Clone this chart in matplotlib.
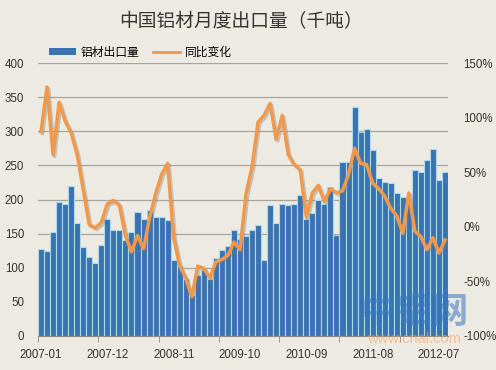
import matplotlib

matplotlib.use("Agg")

import matplotlib.pyplot as plt  # noqa: E402
import matplotlib.patheffects as pe  # noqa: E402
from matplotlib.lines import Line2D  # noqa: E402
from matplotlib.patches import Patch  # noqa: E402
from matplotlib.ticker import FixedLocator, FuncFormatter  # noqa: E402

plt.rcParams["font.family"] = ["Liberation Sans", "Noto Sans CJK SC", "DejaVu Sans"]

# 铝材月度出口量（千吨），2007-01 .. 2012-08
exports = [128, 125, 152, 196, 194, 220, 165, 131, 116, 107,
           133, 172, 155, 155, 140, 152, 182, 172, 184, 175,
           175, 170, 112, 103, 84, 60, 90, 97, 84, 115,
           126, 132, 155, 142, 147, 155, 163, 112, 192, 166,
           193, 192, 194, 206, 171, 180, 199, 194, 219, 148,
           255, 255, 335, 299, 303, 272, 231, 225, 224, 210,
           203, 196, 243, 240, 258, 274, 229, 240]

# 同比变化（%）
yoy = [87, 128, 66, 114, 97, 86, 66, 34, 2, -1,
       4, 21, 24, 20, -8, -23, -8, -20, 8, 30,
       48, 58, -10, -36, -47, -64, -36, -38, -47, -32,
       -30, -26, -14, -21, 30, 55, 96, 102, 113, 80,
       102, 66, 57, 52, 9, 31, 38, 23, 35, 31,
       33, 48, 72, 58, 57, 40, 35, 28, 17, 10,
       -6, 31, -4, -9, -21, -10, -24, -12]

tick_labels = ["2007-01", "2007-12", "2008-11", "2009-10", "2010-09", "2011-08", "2012-07"]
left_ticks = [0, 50, 100, 150, 200, 250, 300, 350, 400]
right_ticks = [-100, -50, 0, 50, 100, 150]

BG = "#edeae2"
BAR = "#3a72b2"
BAR_EDGE = "#a9dbe8"
LINE = "#f0994c"
GRID = "#a8a39a"
TEXT = "#333333"

fig = plt.figure(figsize=(4.96, 3.70), dpi=100, facecolor=BG)
ax = fig.add_axes([38 / 496, 1 - 336 / 370, 410 / 496, 273 / 370])
ax.set_facecolor(BG)

x = list(range(len(exports)))
ax.bar(x, exports, width=1.0, color=BAR, edgecolor=BAR_EDGE, linewidth=0.8, zorder=2)
ax.set_xlim(-0.5, len(exports) - 0.5)
ax.set_ylim(0, 400)
ax.set_yticks(left_ticks)
ax.yaxis.grid(True, color=GRID, linewidth=0.9)
ax.set_axisbelow(True)
for side in ["left", "right", "top"]:
    ax.spines[side].set_visible(False)
ax.spines["bottom"].set_color("#8f8b84")
ax.spines["bottom"].set_zorder(3)

ax.set_xticks([i * 11 for i in range(len(tick_labels))])
ax.set_xticklabels(tick_labels)
ax.xaxis.set_minor_locator(FixedLocator([i * 10 - 0.5 for i in range(7)]))
ax.tick_params(axis="x", which="major", length=0, pad=9, labelsize=8.3, labelcolor=TEXT)
ax.tick_params(axis="x", which="minor", length=4, color="#8f8b84")
ax.tick_params(axis="y", length=0, pad=10, labelsize=8.3, labelcolor=TEXT)

ax2 = ax.twinx()
ax2.set_ylim(-100, 150)
ax2.set_yticks(right_ticks)
ax2.yaxis.set_major_formatter(FuncFormatter(lambda v, _: f"{v:.0f}%"))
ax2.tick_params(axis="y", length=0, pad=11, labelsize=8.3, labelcolor=TEXT)
for side in ax2.spines:
    ax2.spines[side].set_visible(False)
ax2.plot(x, yoy, color=LINE, linewidth=2.5, solid_joinstyle="round",
         path_effects=[pe.SimpleLineShadow(offset=(1.2, -1.2), shadow_color="#777777", alpha=0.35),
                       pe.Normal()], zorder=4)

fig.text(0.485, 1 - 22 / 370, "中国铝材月度出口量（千吨）", ha="center", va="center",
         fontsize=13.5, color=TEXT, family=["Noto Sans CJK SC"])

handles = [Patch(facecolor=BAR, edgecolor="none"), Line2D([], [], color=LINE, linewidth=2)]
fig.legend(handles, ["铝材出口量", "同比变化"], loc="center left",
           bbox_to_anchor=(49 / 496, 1 - 52 / 370), ncol=2, frameon=False,
           borderpad=0, borderaxespad=0, handlelength=2.3,
           handleheight=0.5, handletextpad=0.35, columnspacing=1.2,
           prop={"family": ["Noto Sans CJK SC"], "size": 8.5})

# 水印
fig.text(415 / 496, 1 - 313 / 370, "中铝网", ha="center", va="center", fontsize=26,
         color="#3a78c0", alpha=0.55, fontweight="bold", family=["Noto Sans CJK SC"])
fig.text(414 / 496, 1 - 339 / 370, "www.cnal.com", ha="center", va="center", fontsize=10.5,
         color="#f0a060", alpha=0.6)

fig.savefig("out.png", dpi=100, facecolor=BG)
